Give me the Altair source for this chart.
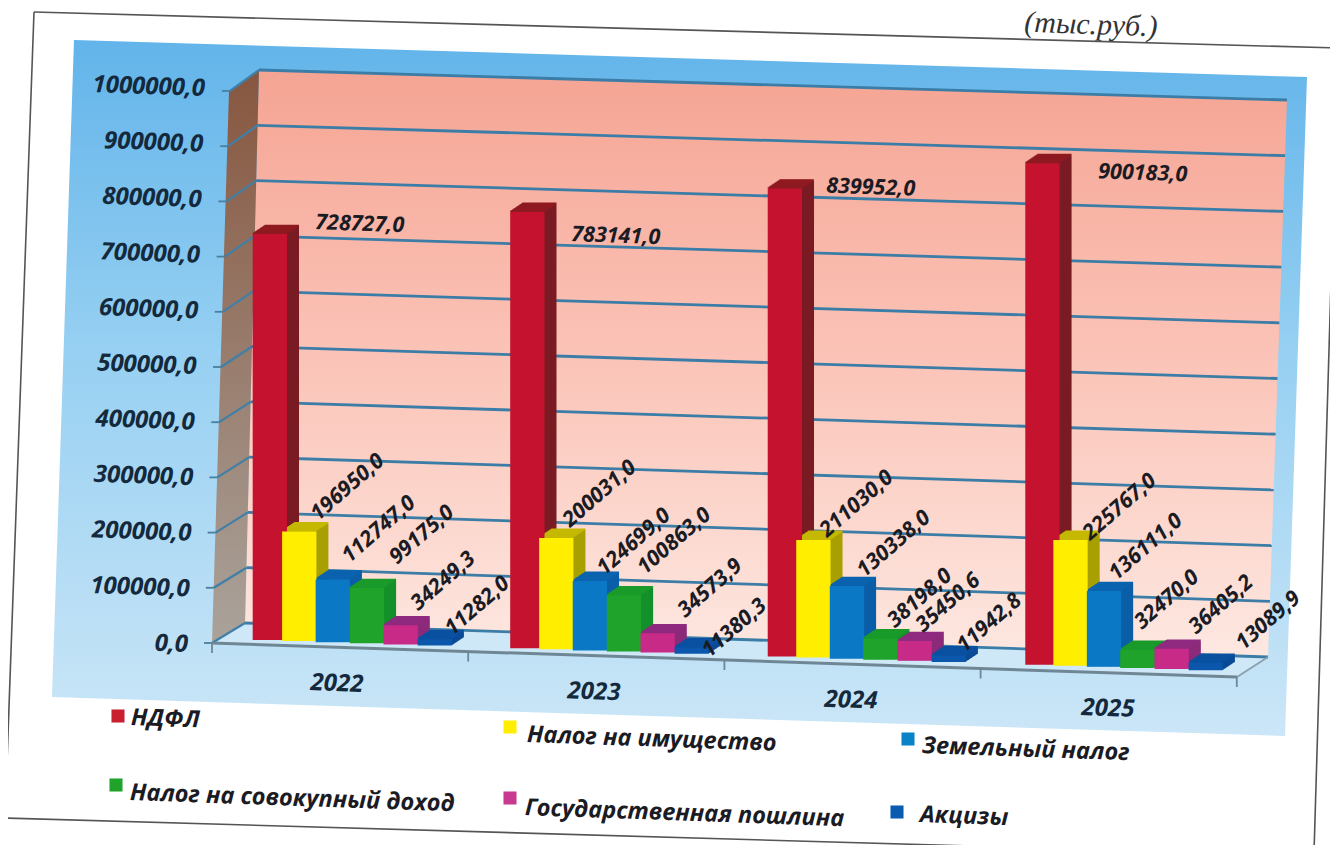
import altair as alt
import pandas as pd

# ---- data -------------------------------------------------------------
years = ["2022", "2023", "2024", "2025"]
series = ["НДФЛ", "Налог на имущество", "Земельный налог",
          "Налог на совокупный доход", "Государственная пошлина", "Акцизы"]
ndfl = [728727.0, 783141.0, 839952.0, 900183.0]
property_tax = [196950.0, 200031.0, 211030.0, 225767.0]
land_tax = [112747.0, 124699.0, 130338.0, 136111.0]
income_tax = [99175.0, 100863.0, 38198.0, 32470.0]
state_duty = [34249.3, 34573.9, 35450.6, 36405.2]
excise = [11282.0, 11380.3, 11942.8, 13089.9]
all_values = [ndfl, property_tax, land_tax, income_tax, state_duty, excise]
ticks = [i * 100000 for i in range(11)]
unit_label = "(тыс.руб.)"

# ---- style ------------------------------------------------------------
front = ["#c4122f", "#ffee00", "#0a78c4", "#1fa32a", "#c82a88", "#0a57ab"]
side = ["#7a1a22", "#a89f00", "#0a5ea8", "#12902a", "#8a2a78", "#0a4a96"]
top = ["#8e1a20", "#c4b800", "#0b63ae", "#1a9a2a", "#8f2a80", "#0b50a0"]
FONT = "Open Sans"

# ---- layout (page pixels) ----------------------------------------------
W, H = 1322, 837
PX = 0.000557          # pixels per unit of value
V = 1 / PX
BAR_W, STEP, PERIOD, X0 = 34.3, 34.3, 257.0, 246.0
SLOPE, SHEAR, DEPTH_X, DEPTH_Y = 0.032, 0.033, 12, 8

def vy(py):
    return (640 - py) * V

y_scale = alt.Scale(domain=[vy(8 + H), vy(8)], nice=False, zero=False, padding=0)
x_scale = alt.Scale(domain=[8, 8 + W], nice=False, zero=False, padding=0)
X = lambda f: alt.X(f, type="quantitative", scale=x_scale, axis=None)
Y = lambda f: alt.Y(f, type="quantitative", scale=y_scale, axis=None)
X2 = lambda f: alt.X2(f)
Y2 = lambda f: alt.Y2(f)

def poly(points, fill):
    d = pd.DataFrame([{"x": p[0], "y": vy(p[1]), "i": n} for n, p in enumerate(points)])
    return alt.Chart(d).mark_line(interpolate="linear-closed", fill=fill, strokeWidth=0).encode(
        x=X("x"), y=Y("y"), order=alt.Order("i:Q"))

def grad(stops, x2=0, y2=1):
    return alt.LinearGradient(gradient="linear", x1=0, y1=0, x2=x2, y2=y2,
                              stops=[alt.GradientStop(offset=o, color=c) for o, c in stops])

def segs(rows, color, width):
    d = pd.DataFrame([{"x": a[0], "x2": b[0], "y": vy(a[1]), "y2": vy(b[1])} for a, b in rows])
    return alt.Chart(d).mark_rule(color=color, strokeWidth=width).encode(
        x=X("x"), x2=X2("x2"), y=Y("y"), y2=Y2("y2"))

# ---- background --------------------------------------------------------
frame = segs([((34, 12), (1338, 48)), ((34, 12), (5, 818)),
              ((5, 818), (1316, 856)), ((1338, 48), (1314, 853))], "#555555", 1.6)
panel = poly([(74, 40), (1307, 77), (1285, 736), (52, 697)],
             grad([(0, "#62b4ea"), (0.45, "#97d0f2"), (1, "#cbe6f7")]))
wall = poly([(259, 70), (1287, 100), (1268, 657), (245, 623)],
            grad([(0, "#f5a493"), (0.5, "#fbc4b8"), (1, "#fde8e1")]))
side_wall = poly([(229, 91), (259, 70), (245, 623), (212, 643)],
                 grad([(0, "#87563f"), (1, "#aaa39b")]))
floor = poly([(212, 643), (245, 623), (1268, 657), (1237, 677)], "#cfe8f8")

fr = lambda v: v / 1e6
back_rows = [((245 + 14 * fr(v), 623 - 553 * fr(v)), (1268 + 19 * fr(v), 657 - 557 * fr(v))) for v in ticks]
side_rows = [((212 + 18 * fr(v), 643 - 552 * fr(v)), (245 + 14 * fr(v), 623 - 553 * fr(v))) for v in ticks]
tick_rows = [((204 + 18 * fr(v), 643 - 552 * fr(v)), (212 + 18 * fr(v), 643 - 552 * fr(v))) for v in ticks]
grid = segs(back_rows, "#3b7da6", 2.8)
side_grid = segs(side_rows, "#3f7fa8", 2.2)
y_ticks = segs(tick_rows, "#4a7f9f", 1.8)
base_line = segs([((212, 643), (1237, 677))], "#6f8795", 3)
x_ticks = segs([((212 + 256.2 * i, 643 + 8.5 * i), (212 + 256.2 * i, 653 + 8.5 * i)) for i in range(5)],
               "#6f8795", 1.8)
right_edge = segs([((1237, 677), (1268, 657))], "#8aa0ad", 1.8)

# ---- bars --------------------------------------------------------------
rows, faces = [], []
for s, name in enumerate(series):
    for y_i, yr in enumerate(years):
        v = all_values[s][y_i]
        x0 = X0 + PERIOD * y_i + STEP * s
        base = vy(640 + SLOPE * (x0 - X0))
        shift = SHEAR * v * PX / 2
        rows.append({"year": yr, "series": name, "value": v, "x": x0 + shift, "x2": x0 + shift + BAR_W,
                     "y": base + v, "y2": base, "s": s, "yi": y_i, "x0": x0})
        for k in range(1, DEPTH_X + 1):
            dy = k * DEPTH_Y / DEPTH_X * V
            faces.append({"x": x0 + shift + k, "x2": x0 + shift + BAR_W + k,
                          "y": base + v + dy, "y2": base + dy, "fill": side[s]})
    for y_i in range(4):
        v = all_values[s][y_i]
        x0 = X0 + PERIOD * y_i + STEP * s
        base = vy(640 + SLOPE * (x0 - X0))
        shift = SHEAR * v * PX / 2
        for k in range(0, DEPTH_X + 1):
            dy = k * DEPTH_Y / DEPTH_X * V
            faces.append({"x": x0 + shift + k, "x2": x0 + shift + BAR_W + k,
                          "y": base + v + dy + 1.4 * V, "y2": base + v + dy, "fill": top[s]})
bars_df = pd.DataFrame(rows)
depth = alt.Chart(pd.DataFrame(faces)).mark_rect().encode(
    x=X("x"), x2=X2("x2"), y=Y("y"), y2=Y2("y2"), color=alt.Color("fill:N", scale=None))
bars = alt.Chart(bars_df).mark_bar().encode(
    x=X("x"), x2=X2("x2"), y=Y("y"), y2=Y2("y2"),
    color=alt.Color("series:N", scale=alt.Scale(domain=series, range=front), legend=None))

# ---- value labels ------------------------------------------------------
label_dx = [[69, 68, 66, 81], [38, 33, 33, 39], [35, 33, 36, 31],
            [48, 39, 32, 22], [35, 45, 26, 42], [35, 35, 33, 55]]
label_dy = [[-5, 29, 4, 15], [-10, -10, -2, 1], [-16, -5, -8, -10],
            [-23, -20, -10, -20], [-14, -15, -8, -14], [-3, 11, -2, -12]]
lab = []
for r in rows:
    s, yi = r["s"], r["yi"]
    lab.append({"text": f"{r['value']:.1f}".replace(".", ","), "x": r["x0"] + label_dx[s][yi],
                "y": r["y"] - label_dy[s][yi] * V, "s": s})
lab = pd.DataFrame(lab)
val_font = dict(font=FONT, fontStyle="italic", fontWeight="bold", fontSize=21.5, color="#1b1b24",
                align="left", baseline="alphabetic")
labels_top = alt.Chart(lab[lab.s == 0]).mark_text(angle=2, **val_font).encode(x=X("x"), y=Y("y"), text="text:N")
labels_low = alt.Chart(lab[lab.s > 0]).mark_text(angle=319, **val_font).encode(x=X("x"), y=Y("y"), text="text:N")

# ---- axis text ---------------------------------------------------------
ax = pd.DataFrame([{"text": f"{v:.1f}".replace(".", ","), "x": 188 + 17 * fr(v), "y": vy(645 - 556 * fr(v))} for v in ticks])
axis_text = alt.Chart(ax).mark_text(font=FONT, fontStyle="italic", fontWeight="bold", fontSize=24,
                                    color="#14293c", align="right", baseline="middle", angle=2).encode(
    x=X("x"), y=Y("y"), text="text:N")
yl = pd.DataFrame([{"text": y, "x": 337 + 257 * i, "y": vy(684 + 8.3 * i)} for i, y in enumerate(years)])
year_text = alt.Chart(yl).mark_text(font=FONT, fontStyle="italic", fontWeight="bold", fontSize=24,
                                    color="#14293c", align="center", baseline="middle", angle=2).encode(
    x=X("x"), y=Y("y"), text="text:N")

# ---- legend ------------------------------------------------------------
legend_sq = [(118, 716), (510, 727), (908, 739), (116, 785), (510, 798), (897, 812)]
legend_tx = [(131, 718), (527, 735), (922, 746), (130, 793), (525, 808), (920, 815)]
leg = pd.DataFrame([{"name": n, "sx": a[0], "sy": vy(a[1]), "tx": b[0], "ty": vy(b[1])}
                    for n, a, b in zip(series, legend_sq, legend_tx)])
leg_marks = alt.Chart(leg).mark_square(size=170, opacity=1).encode(
    x=X("sx"), y=Y("sy"),
    color=alt.Color("name:N", scale=alt.Scale(domain=series, range=["#c8202f", "#ffee00", "#0a82c8", "#1fa32a", "#c83a90", "#0a5bb0"]), legend=None))
leg_text = alt.Chart(leg).mark_text(font=FONT, fontStyle="italic", fontWeight="bold", fontSize=23.5,
                                    color="#1b1b24", align="left", baseline="middle", angle=2).encode(
    x=X("tx"), y=Y("ty"), text="name:N")

unit = alt.Chart(pd.DataFrame([{"text": unit_label, "x": 1091, "y": vy(25)}])).mark_text(
    font="Liberation Serif", fontStyle="italic", fontSize=30, color="#333333", align="center",
    baseline="middle", angle=2).encode(x=X("x"), y=Y("y"), text="text:N")

chart = alt.layer(
    frame, panel, wall, side_wall, floor, grid, side_grid, y_ticks, right_edge,
    depth, bars, base_line, x_ticks, labels_top, labels_low, axis_text, year_text,
    leg_marks, leg_text, unit,
).properties(width=W, height=H, padding=0, background="white",
             autosize=alt.AutoSizeParams(type="none")).resolve_scale(color="independent").configure_view(stroke=None)

chart.save("out.html", embed_options={"renderer": "svg", "actions": False})
